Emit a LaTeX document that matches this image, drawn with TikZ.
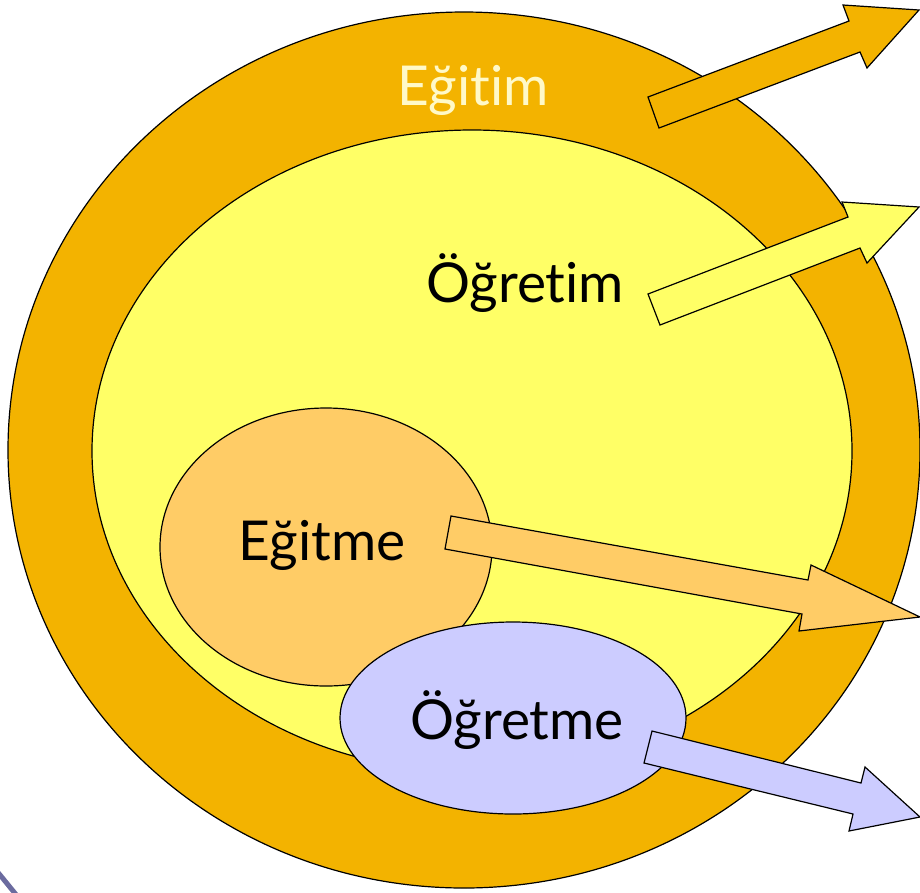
\documentclass[tikz,border=0pt]{standalone}
\usepackage{fontspec}
\setmainfont{Lato}[Ligatures={NoCommon,NoRare}]
\usetikzlibrary{shapes.geometric}
\definecolor{ringorange}{HTML}{F3B300}
\definecolor{inneryellow}{HTML}{FFFF66}
\definecolor{softorange}{HTML}{FFCC66}
\definecolor{lavender}{HTML}{CCCCFF}
\definecolor{cream}{HTML}{FFF9C8}
\definecolor{slideline}{HTML}{6B6B9F}
\begin{document}
\begin{tikzpicture}[x=1pt,y=-1pt,
  blob/.style={ellipse,draw=black,line width=1.2pt,inner sep=0pt},
  blockarrow/.style={draw=black,line width=1.2pt,line join=miter},
  lbl/.style={font=\fontsize{55}{66}\selectfont,inner sep=0pt,anchor=base}]
\useasboundingbox (0,0) rectangle (920,892);
% slide border fragment
\draw[slideline,line width=5pt] (-4,870) -- (18,897);
% outer ring
\node[blob,fill=ringorange,minimum width=912pt,minimum height=876pt] (egitim) at (464,450) {};
% arrow 1
\draw[blockarrow,fill=ringorange] (648,97) -- (849,21) -- (843,5) -- (919,10) -- (867,68) -- (860,52) -- (659,128) -- cycle;
% inner yellow
\node[blob,fill=inneryellow,minimum width=760pt,minimum height=642pt] (ogretim) at (472,451) {};
% arrow 2
\draw[blockarrow,fill=inneryellow] (648,294) -- (848,217) -- (842,202) -- (919,207) -- (867,263) -- (860,248) -- (660,325) -- cycle;
% Egitme
\node[blob,fill=softorange,minimum width=332pt,minimum height=278pt] (egitme) at (326,547) {};
% arrow 3
\draw[blockarrow,fill=softorange] (451,516) -- (808,580) -- (811,565) -- (920,617) -- (799,631) -- (802,614) -- (445,549) -- cycle;
% Ogretme
\node[blob,fill=lavender,minimum width=346pt,minimum height=192pt] (ogretme) at (513,718) {};
% arrow 4
\draw[blockarrow,fill=lavender] (652,731) -- (861,783) -- (865,767) -- (920,817) -- (849,831) -- (853,814) -- (644,763) -- cycle;
% labels
\node[lbl,text=cream] (tegitim) at (473,105) {Eğitim};
\node[lbl] (togretim) at (525,302) {Öğretim};
\node[lbl] (tegitme) at (322,560) {Eğitme};
\node[lbl] (togretme) at (517,739) {Öğretme};
\end{tikzpicture}
\end{document}
